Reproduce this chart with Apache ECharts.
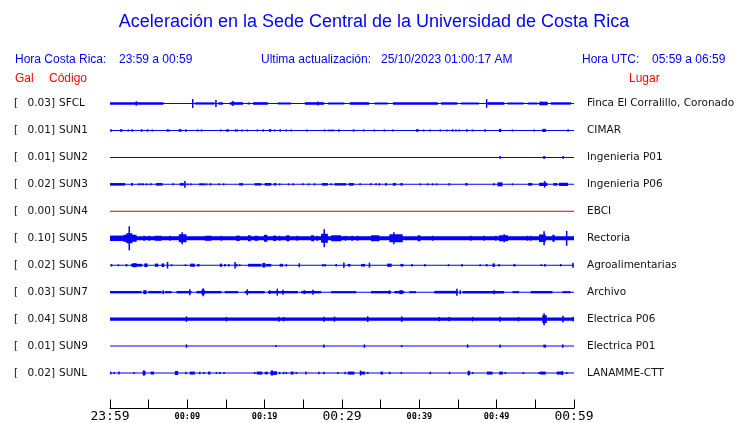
<!DOCTYPE html>
<html><head><meta charset="utf-8">
<script src="https://cdn.jsdelivr.net/npm/echarts@6/dist/echarts.min.js"></script>
<style>html,body{margin:0;padding:0;background:#fff}#c{width:740px;height:423px}</style>
</head><body><div id="c"></div>
<script>
// ---- data ----
const codes = ['SFCL','SUN1','SUN2','SUN3','SUN4','SUN5','SUN6','SUN7','SUN8','SUN9','SUNL'];
const peakGal = [0.03,0.01,0.01,0.02,0.00,0.10,0.02,0.03,0.04,0.01,0.02];
const places = ['Finca El Corralillo, Coronado','CIMAR','Ingenieria P01','Ingenieria P06','EBCI','Rectoria','Agroalimentarias','Archivo','Electrica P06','Electrica P01','LANAMME-CTT'];
const xTickLabels = ['23:59','00:09','00:19','00:29','00:39','00:49','00:59'];
// background noise half-amplitude per station (relative units)
const baseNoise = [0.5,0.5,0.5,0.5,0.5,2,0.5,0.5,1.7,0.5,0.5];
// bursts: [start minute, end minute, half-amplitude]
const sfcl = [[0,6.9,1.3],[3.4,3.4,2.2],[10.7,10.7,4.5],[11,13.5,1.1],[13.7,13.7,3.5],[14,14.6,1.2],[15.5,17.2,1.3],[15.9,15.9,2.5],[17.8,18.1,1],[18.5,20.4,1.3],[21.7,23.4,1],[25.2,27.7,1.3],[26.9,26.9,2],[28.2,30.3,1],[31,33.5,1.3],[34.2,35.9,1],[36.6,42.4,1.2],[42.8,44.9,1.2],[45.4,47.7,1],[48.7,48.7,4.3],[48.8,51,1.3],[51.4,53.5,1],[54,55.3,1],[55.5,56.6,1.8],[57,59.6,1.2]];
const sun1 = [[0.13,0.13,1.3],[1.3,1.6,1.3],[2.37,2.37,1],[2.88,2.88,1.2],[4,4.2,1.3],[4.86,4.86,1.2],[5.46,5.46,1],[7.44,7.44,1.2],[7.61,7.61,1],[8.9,9.25,1.3],[9.81,9.81,1.2],[11.31,11.31,1],[11.83,11.83,1],[14.32,14.32,1],[15.05,15.35,1.3],[16.26,16.26,1.2],[16.47,16.47,1],[17.08,17.08,1],[17.76,17.76,1],[19.05,19.05,1],[19.83,19.83,1.2],[20.56,20.86,1.3],[21.29,21.29,1],[22.02,22.02,1.2],[22.8,22.8,1],[23.44,23.44,1],[25.46,25.46,1],[27.74,27.74,1],[28.2,29,0.8],[29.59,29.59,1.2],[31.4,31.6,1.2],[32.7,32.9,1],[34.19,34.19,1],[35.48,35.48,1],[36.56,36.56,1],[39.57,39.91,1.3],[40.56,40.56,1],[41.42,41.42,1],[42.71,42.71,1],[43.57,43.57,1],[44.3,44.3,1.2],[44.73,44.73,1],[45.16,45.16,1],[46.05,46.25,1.2],[46.88,46.88,1],[48.4,48.6,1.2],[50.3,50.6,1.6],[52.04,52.04,1],[54.84,54.84,1],[55.9,56.35,1.6],[59.23,59.23,1.2]];
const sun2 = [[50.45,50.45,1.3],[56.0,56.3,1.3],[58.5,58.7,1.3]];
const sun3 = [[0,1.94,1.3],[2.71,2.97,1.3],[3.7,3.7,1],[4.0,4.0,1],[4.3,4.3,1],[4.73,4.73,1],[5.29,5.29,1],[5.94,6.8,1.3],[8.17,8.17,1],[9.03,9.55,1.3],[9.68,9.68,3.3],[10.02,10.02,1],[10.45,10.45,1],[11.53,12.26,1],[12.47,12.47,1],[12.9,13.1,1.2],[14.1,14.1,1],[14.7,14.7,1],[16.69,17.2,1.2],[18.7,19.57,1.2],[20,20.86,1.3],[21.2,21.5,1.3],[21.94,21.94,1],[23.1,23.1,1],[23.7,23.7,1],[24.95,24.95,1],[25.68,25.68,1],[26.45,26.45,1],[27.4,28.17,1.3],[28.6,28.6,1],[29.03,30.54,1.2],[30.88,31.53,1.3],[32.34,32.34,1],[33.76,33.76,1],[34.4,34.4,1],[34.84,34.84,1.2],[35.57,35.83,1.2],[36.56,36.99,1.3],[37.55,37.85,1.3],[40.13,40.13,1],[41.08,41.08,1],[41.72,41.72,1],[42.24,42.24,1],[43.87,43.87,1.2],[45.94,46.24,1.3],[49.55,49.76,1.2],[50.1,50.75,2],[52.04,52.04,1],[54.06,54.62,1.3],[55.48,56.56,1.6],[56.2,56.2,3.3],[57.33,57.85,1.3],[58.06,59.23,1.6]];
const sun4 = [];
const sun5 = [[0,1.72,2.7],[1.72,3.44,3.5],[2.49,2.49,12],[2.1,2.9,5],[4.3,4.52,2.5],[5.08,5.08,2.5],[5.8,6.67,2.5],[7.74,7.74,2.5],[8.9,9.89,4],[9.33,9.33,6],[12.26,13.12,2.5],[14.4,14.4,2.5],[16.34,16.77,2.7],[17.85,18.2,3],[18.7,19.14,2.5],[19.9,20.34,3.5],[21.08,21.5,2.7],[21.94,21.94,2.5],[22.8,23.2,3],[24.2,24.2,2.5],[26.0,26.4,3],[26.8,26.8,2.5],[27.3,28.17,4.5],[27.7,27.7,9],[28.6,29.9,3],[30.45,30.45,2.5],[31.2,31.4,2.5],[32.04,32.04,2.5],[33.76,34.84,3],[36.13,37.85,4],[36.7,36.7,6],[39.78,40.13,3],[41.72,41.72,2.5],[46.67,46.67,2.5],[48.39,48.39,2.5],[49.9,49.9,2.5],[50.3,51.48,3],[50.97,50.97,4],[53.98,53.98,2.5],[54.4,54.4,2.5],[55.48,56.34,3.8],[56.13,56.13,7],[57.2,57.5,3.5],[59.05,59.05,7.5]];
const sun6 = [[0.1,0.3,1.3],[1.08,1.08,1],[2.02,2.24,1.2],[2.71,4.17,1.4],[2.92,3.44,2],[4.43,4.86,1.8],[5.8,6.24,1.6],[6.67,7.01,1.8],[7.44,7.44,3.3],[7.96,7.96,1],[9.76,9.76,1],[10.37,10.97,1.6],[11.27,11.57,1.3],[14.19,14.5,1.6],[14.75,14.97,1.3],[15.27,15.44,1.3],[16.17,16.17,3.3],[16.39,16.39,1.3],[16.77,16.77,1],[17.85,19.57,1.4],[19.7,20.09,2.3],[20.13,20.86,1.3],[21.94,22.37,1.4],[22.8,22.8,1.3],[24.47,24.47,2],[27.53,27.53,1.2],[27.83,27.83,1.2],[29.16,29.33,1.3],[30.24,30.24,2.7],[30.75,31.1,1.3],[32.47,32.99,1.3],[33.55,33.55,2.5],[35.83,36.43,1.6],[37.55,37.94,1.3],[39.05,39.05,1.2],[40.73,40.73,1.2],[43.78,43.78,1],[45.51,45.51,1.2],[47.87,47.87,1],[48.6,48.82,1.2],[49.46,49.76,1.8],[50.32,50.32,1.2],[52.17,52.43,1.3],[55.78,55.78,1],[56.13,56.34,1.3],[58.28,58.28,1.2],[59.87,59.87,2.5]];
const sun7 = [[0,4.09,1.2],[4.3,4.73,2],[4.95,6.67,1.2],[6.88,6.88,2],[7.1,7.96,1.1],[8.6,10.54,1.2],[10.32,10.32,3],[11.18,14.41,1.2],[11.83,12.26,2.5],[12.04,12.04,4],[14.84,16.56,1.1],[17.42,20,1.2],[17.76,17.76,3],[20.43,24.3,1.2],[20.65,20.65,2],[21.63,21.63,3.5],[22.37,22.37,2.5],[24.73,27.31,1.2],[25.03,25.25,2],[26.24,26.24,2.5],[28.6,31.83,1.1],[33.76,36.34,1.2],[36.13,36.13,2],[36.77,38.06,1.2],[37.42,37.85,2],[38.71,39.57,1],[41.94,44.95,1.3],[44.86,44.86,3.5],[45.29,45.29,2],[45.59,50.97,1.2],[49.68,49.68,2],[52.04,52.9,1],[54.4,57.2,1.2],[58.5,59.57,1]];
const sun8 = [[9.89,9.89,2.8],[15.05,15.05,2.2],[21.85,21.85,2.5],[22.45,22.45,2.2],[27.66,27.66,2.5],[29.03,29.03,2.6],[33.33,33.33,2.8],[37.72,37.72,2.8],[42.58,42.58,2.2],[43.87,43.87,2.2],[46.88,46.88,2.3],[50.45,50.45,2.5],[52.82,52.82,2.2],[55.91,56.47,4],[56.13,56.13,6],[58.58,58.58,3.3],[59.91,59.91,2.3]];
const sun9 = [[9.89,9.89,1.7],[21.46,21.46,1],[27.66,27.66,1.7],[32.9,32.9,1.7],[37.72,37.72,1],[46.24,46.24,1.7],[50.45,50.45,1.7],[56.04,56.39,1.5],[58.54,58.54,1.7]];
const sunl = [[0.09,0.09,1.3],[0.56,0.56,1],[1.16,1.16,1.5],[3.1,3.1,1],[4.22,4.6,2],[4.39,4.39,2.7],[5.25,5.68,1.5],[8.39,8.82,2],[9.81,9.81,1.2],[10.32,10.97,1.5],[11.61,11.61,1.2],[12.13,12.13,1],[12.69,12.99,1.5],[13.76,13.76,1],[14.19,14.19,1],[14.75,14.75,1],[18.71,18.71,1],[18.97,19.7,1.5],[20,20.43,1.3],[20.73,21.59,1.8],[20.95,20.95,2.7],[21.94,21.94,1.2],[22.45,22.45,1.2],[22.8,22.8,1],[23.35,23.74,1.5],[24.09,24.09,1],[25.33,25.33,1.5],[27.01,27.01,1.2],[27.66,27.66,1.2],[29.46,29.46,1],[30.41,30.41,1.2],[30.75,31.61,1.5],[32.39,32.39,2.5],[32.47,32.99,1.5],[33.33,33.33,1],[34.97,35.31,1.5],[36.17,36.17,1.2],[37.68,37.68,1],[41.42,41.42,1.2],[43.91,43.91,1.2],[46.24,46.58,1.8],[46.37,46.37,2.5],[46.88,46.88,1],[48.73,49.46,1.5],[50.32,50.8,1.5],[51.14,51.14,1],[53.46,53.46,1],[55.48,55.48,1],[55.61,56.34,1.5],[57.76,58.62,1.5],[58.49,58.49,2],[59.05,59.05,1]];
const traces = [sfcl,sun1,sun2,sun3,sun4,sun5,sun6,sun7,sun8,sun9,sunl];

// ---- style ----
const BLUE = '#0000ff', RED = '#ff0000';
const traceColors = codes.map((c,i)=> i===4 ? '#dd0000' : BLUE);
const ROW = 27; // px per row
const AMP = 1/ROW; // amplitude unit -> rows

const chart = echarts.init(document.getElementById('c'), null, {renderer:'canvas'});

function burstItem(row, color){
  return function(params, api){
    const t0 = api.value(0), t1 = api.value(1), a = api.value(2);
    const p0 = api.coord([t0, row - a*AMP]);
    const p1 = api.coord([t1, row + a*AMP]);
    let x = Math.min(p0[0],p1[0]), w = Math.abs(p1[0]-p0[0]);
    if (w < 1.5) { x = (p0[0]+p1[0])/2 - 0.75; w = 1.5; }
    const y = Math.min(p0[1],p1[1]), h = Math.max(1, Math.abs(p1[1]-p0[1]));
    return {type:'rect', shape:{x:x, y:y, width:w, height:h}, style:{fill:color}};
  };
}
function baseItem(params, api){
  const row = api.value(0), a = api.value(1);
  const p0 = api.coord([0, row - a*AMP]);
  const p1 = api.coord([60, row + a*AMP]);
  const y = Math.min(p0[1],p1[1]), h = Math.max(1, Math.abs(p1[1]-p0[1]));
  return {type:'rect', shape:{x:p0[0], y:y, width:p1[0]-p0[0], height:h}, style:{fill: traceColors[row]}};
}

const series = [];
series.push({type:'custom', renderItem: baseItem, data: baseNoise.map((b,i)=>[i,b]), silent:true, animation:false});
traces.forEach((tr,i)=>{
  series.push({type:'custom', renderItem: burstItem(i, traceColors[i]), data: tr, silent:true, animation:false});
});

chart.setOption({
  animation:false,
  backgroundColor:'#fff',
  grid:{left:110, right:166, top:90, bottom:14, containLabel:false},
  xAxis:{type:'value', min:0, max:60, interval:5,
    axisLine:{show:true, onZero:false, lineStyle:{color:'#000', width:1}},
    axisTick:{show:true, inside:true, length:9, lineStyle:{color:'#000', width:1}},
    splitLine:{show:false},
    axisLabel:{margin:1, showMinLabel:true, showMaxLabel:true,
      formatter: function(v){
        if (v % 10 !== 0) return '';
        const s = xTickLabels[v/10];
        return (v % 30 === 0) ? '{big|'+s+'}' : '{small|'+s+'}';
      },
      rich:{
        big:{fontFamily:'DejaVu Sans Mono', fontSize:13, color:'#000', lineHeight:14},
        small:{fontFamily:'DejaVu Sans Mono', fontSize:8.5, fontWeight:'bold', color:'#000', lineHeight:14}
      }}
  },
  yAxis:{type:'value', inverse:true, min:-0.5, max:11.3148, show:false},
  series: series
});

// text labels
const g = [];
function txt(x,y,text,style,align){ g.push({type:'text', x:x, y:y, style:Object.assign({text:text, align:align||'left', verticalAlign:'middle'}, style)}); }
txt(374,22,'Aceleración en la Sede Central de la Universidad de Costa Rica',{fontFamily:'Liberation Sans', fontSize:18, fill:BLUE},'center');
const hdr = {fontFamily:'Liberation Sans', fontSize:12, fill:BLUE};
txt(15,60,'Hora Costa Rica:',hdr); txt(119,60,'23:59 a 00:59',hdr);
txt(261,60,'Ultima actualización:',hdr); txt(381,60,'25/10/2023 01:00:17 AM',hdr);
txt(582,60,'Hora UTC:',hdr); txt(652,60,'05:59 a 06:59',hdr);
const red = {fontFamily:'Liberation Sans', fontSize:12, fill:RED};
txt(15,79,'Gal',red); txt(49,79,'Código',red); txt(629,79,'Lugar',red);
const lab = {fontFamily:'DejaVu Sans', fontSize:10.5, fill:'#111'};
codes.forEach((c,i)=>{
  const y = chart.convertToPixel({yAxisIndex:0}, i);
  txt(14,y,'[',lab);
  txt(55,y,peakGal[i].toFixed(2)+']',lab,'right');
  txt(59,y,c,lab);
  txt(587,y,places[i],lab);
});
chart.setOption({graphic:{elements:g}});
</script></body></html>
